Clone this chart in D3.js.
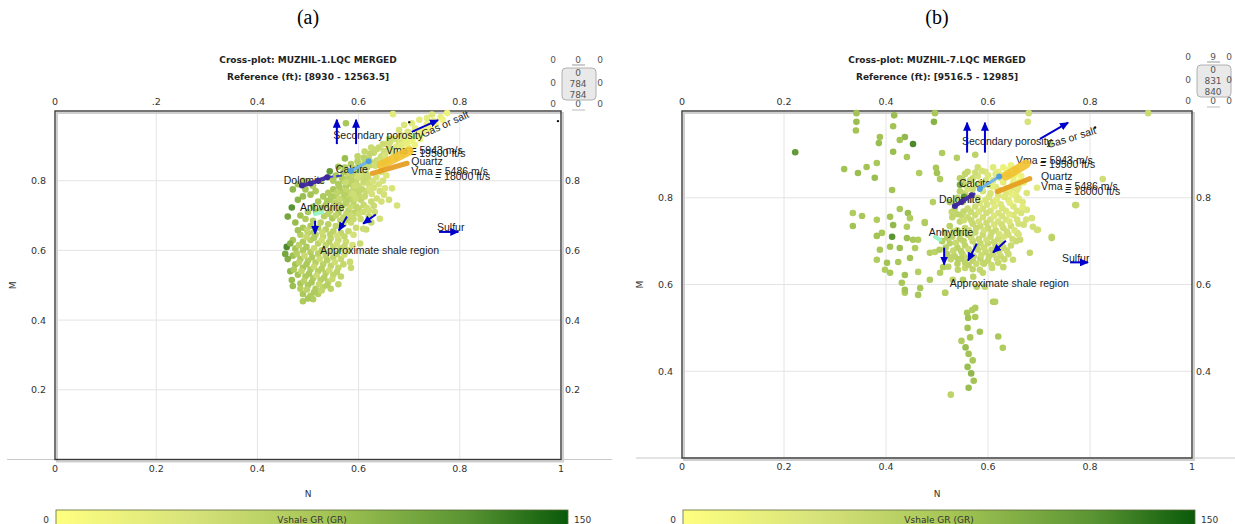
<!DOCTYPE html>
<html>
<head>
<meta charset="utf-8">
<script src="https://cdn.jsdelivr.net/npm/d3@7"></script>
<style>
  body { margin: 0; background: #fff; }
  svg text { font-family: "DejaVu Sans", Verdana, sans-serif; }
  .tick { font-size: 9.5px; fill: #333; }
  .title { font-size: 9px; font-weight: bold; fill: #222; }
  .note { font-family: "Liberation Sans", Arial, sans-serif; font-size: 10.5px; fill: #1a1a1a; }
  .panel { font-family: "Liberation Serif", "Times New Roman", serif; font-size: 20px; fill: #000; }
  .wid { font-size: 9px; fill: #555; }
</style>
</head>
<body>
<svg id="chart" width="1235" height="524"></svg>
<script>
const svg = d3.select('#chart');

// ---------- data ----------
const panelNames = ['(a)', '(b)'];
const titles = ['Cross-plot: MUZHIL-1.LQC MERGED', 'Cross-plot: MUZHIL-7.LQC MERGED'];
const references = ['Reference (ft): [8930 - 12563.5]', 'Reference (ft): [9516.5 - 12985]'];
const grDomain = [0, 150];
const xTicks = [0, 0.2, 0.4, 0.6, 0.8, 1];
const topLabelsA = ['0', '.2', '0.4', '0.6', '0.8'];
const topLabelsB = ['0', '0.2', '0.4', '0.6', '0.8'];
const yTicksA = [0.2, 0.4, 0.6, 0.8];
const yTicksB = [0.4, 0.6, 0.8];
const yDomainA = [0, 1];
const yDomainB = [0.2, 1];

// [N, M, GR]
const pointsA = [
  [0.668,0.991,28],[0.775,0.994,18],[0.762,0.982,22],[0.748,0.972,15],[0.735,0.962,20],[0.725,0.945,30],
  [0.742,0.952,12],[0.712,0.95,25],[0.72,0.932,18],[0.70,0.93,30],[0.69,0.918,32],[0.706,0.914,15],
  [0.68,0.91,38],[0.696,0.904,20],[0.722,0.92,10],[0.675,0.898,32],[0.686,0.89,22],[0.66,0.895,42],
  [0.67,0.88,36],[0.65,0.885,46],[0.655,0.905,40],[0.64,0.895,50],[0.63,0.88,52],[0.645,0.87,48],
  [0.62,0.865,55],[0.636,0.858,50],[0.612,0.852,58],[0.625,0.845,52],[0.575,0.965,75],[0.745,0.99,30],
  [0.735,0.98,26],
  [0.652,0.872,40],[0.662,0.884,35],[0.672,0.893,30],[0.683,0.902,28],[0.693,0.911,24],[0.703,0.922,20],
  [0.714,0.928,18],[0.727,0.94,16],[0.738,0.948,14],[0.752,0.963,12],[0.766,0.975,16],[0.642,0.862,45],
  [0.628,0.852,50],[0.617,0.838,52],[0.633,0.843,46],[0.648,0.852,42],[0.658,0.858,38],[0.674,0.866,33],
  [0.688,0.878,26],[0.699,0.892,22],[0.711,0.903,18],[0.716,0.94,22],[0.697,0.94,34],[0.684,0.93,36],
  [0.671,0.92,40],[0.662,0.91,44],[0.648,0.905,48],[0.636,0.89,52],[0.622,0.878,56],[0.61,0.866,60],
  [0.598,0.856,62],[0.585,0.848,66],[0.573,0.838,70],[0.598,0.87,58],[0.612,0.884,54],[0.625,0.895,50],
  [0.66,0.92,44],[0.68,0.945,38],[0.69,0.96,36],[0.705,0.965,30],[0.72,0.975,28],
  [0.61,0.84,55],[0.60,0.83,60],[0.615,0.82,52],[0.59,0.82,58],[0.605,0.81,48],[0.58,0.81,62],
  [0.595,0.80,55],[0.57,0.80,65],[0.585,0.79,60],[0.61,0.795,50],[0.62,0.805,45],[0.575,0.785,68],
  [0.56,0.79,72],[0.59,0.775,58],[0.60,0.785,50],[0.565,0.77,66],[0.58,0.765,62],[0.55,0.775,75],
  [0.54,0.765,70],[0.555,0.755,64],[0.57,0.75,60],[0.585,0.755,55],[0.60,0.76,52],[0.615,0.77,48],
  [0.63,0.78,42],[0.64,0.79,40],[0.635,0.81,38],[0.645,0.825,40],[0.53,0.755,72],[0.545,0.745,68],
  [0.56,0.74,65],[0.575,0.735,62],[0.59,0.74,58],[0.605,0.745,55],[0.52,0.74,75],[0.535,0.73,70],
  [0.55,0.725,66],[0.565,0.72,64],[0.58,0.715,60],[0.595,0.725,56],[0.61,0.73,52],[0.625,0.74,50],
  [0.636,0.749,45],[0.62,0.79,46],[0.60,0.845,62],[0.59,0.835,66],
  [0.567,0.808,68],[0.578,0.822,54],[0.592,0.828,60],[0.604,0.822,46],[0.618,0.812,50],[0.628,0.798,40],
  [0.612,0.804,52],[0.598,0.812,44],[0.586,0.803,60],[0.574,0.795,50],[0.562,0.782,70],[0.576,0.772,56],
  [0.592,0.786,48],[0.607,0.775,54],[0.622,0.778,40],[0.60,0.768,56],[0.588,0.763,46],[0.572,0.758,64],
  [0.558,0.766,58],[0.546,0.756,70],[0.562,0.748,52],[0.578,0.744,62],[0.594,0.748,48],[0.612,0.755,52],
  [0.626,0.762,42],[0.642,0.77,44],[0.652,0.778,36],[0.648,0.80,40],[0.655,0.815,34],[0.538,0.742,72],
  [0.552,0.735,58],[0.568,0.728,64],[0.584,0.725,50],[0.60,0.72,56],[0.616,0.722,46],[0.63,0.728,50],
  [0.645,0.74,42],[0.528,0.722,76],[0.544,0.714,60],[0.56,0.708,68],[0.576,0.706,54],[0.592,0.708,60],
  [0.604,0.69,50],[0.62,0.698,54],[0.632,0.71,46],[0.516,0.71,80],[0.532,0.698,64],[0.548,0.692,72],
  [0.564,0.686,56],[0.578,0.688,64],[0.59,0.69,52],[0.625,0.68,52],[0.615,0.66,48],
  [0.48,0.79,80],[0.49,0.80,70],[0.50,0.795,75],[0.51,0.785,68],[0.525,0.80,72],[0.54,0.81,78],
  [0.55,0.80,70],[0.47,0.775,90],[0.495,0.775,78],[0.515,0.77,72],[0.505,0.76,80],[0.49,0.755,85],
  [0.48,0.745,92],[0.543,0.827,115],[0.573,0.864,85],[0.56,0.84,80],[0.57,0.825,72],[0.555,0.815,76],
  [0.51,0.725,70],[0.525,0.715,66],[0.54,0.705,60],[0.555,0.70,58],[0.57,0.695,54],[0.585,0.70,50],
  [0.60,0.705,48],[0.609,0.71,46],[0.62,0.715,44],[0.642,0.691,42],[0.609,0.662,46],[0.603,0.62,50],
  [0.50,0.71,72],[0.485,0.70,80],[0.468,0.723,120],[0.46,0.697,105],[0.495,0.69,70],[0.51,0.685,64],
  [0.525,0.68,60],[0.54,0.675,62],[0.555,0.67,56],[0.57,0.675,52],[0.585,0.68,50],[0.595,0.665,48],
  [0.58,0.655,52],[0.565,0.65,56],[0.55,0.655,58],[0.535,0.66,62],[0.52,0.665,66],[0.505,0.67,70],
  [0.49,0.665,74],[0.475,0.68,86],[0.676,0.729,40],[0.666,0.778,38],[0.65,0.76,42],[0.66,0.745,45],
  [0.458,0.61,125],[0.47,0.63,76],[0.485,0.645,66],[0.50,0.65,62],[0.515,0.645,58],[0.53,0.64,54],
  [0.545,0.635,56],[0.56,0.63,50],[0.575,0.625,48],[0.49,0.625,70],[0.505,0.63,64],[0.52,0.62,60],
  [0.535,0.615,56],[0.55,0.61,54],[0.565,0.605,52],[0.58,0.60,48],[0.475,0.605,78],[0.49,0.60,70],
  [0.505,0.595,66],[0.52,0.59,62],[0.535,0.585,58],[0.55,0.58,56],[0.565,0.575,52],[0.583,0.567,50],
  [0.585,0.55,52],[0.47,0.585,82],[0.485,0.575,72],[0.50,0.57,68],[0.515,0.565,64],[0.53,0.56,60],
  [0.545,0.555,58],[0.56,0.55,54],[0.475,0.56,80],[0.49,0.55,74],[0.505,0.545,70],[0.52,0.54,66],
  [0.535,0.535,62],[0.55,0.53,58],[0.565,0.525,56],[0.48,0.53,78],[0.495,0.525,72],[0.51,0.52,68],
  [0.525,0.515,64],[0.54,0.51,60],[0.56,0.503,58],[0.53,0.495,62],[0.47,0.498,84],[0.485,0.505,76],
  [0.50,0.50,72],[0.515,0.49,68],[0.49,0.475,74],[0.505,0.47,70],[0.49,0.454,72],[0.52,0.475,66],
  [0.51,0.46,68],[0.545,0.49,60],[0.465,0.54,92],[0.46,0.575,98],[0.455,0.59,104],[0.465,0.62,95],
  [0.498,0.658,54],[0.512,0.652,68],[0.528,0.652,48],[0.544,0.646,60],[0.558,0.642,44],[0.572,0.64,54],
  [0.59,0.645,42],[0.48,0.658,80],[0.497,0.638,52],[0.512,0.636,68],[0.527,0.63,46],[0.542,0.624,60],
  [0.557,0.618,44],[0.572,0.612,52],[0.588,0.615,42],[0.482,0.615,60],[0.497,0.61,72],[0.512,0.606,50],
  [0.527,0.60,64],[0.542,0.596,46],[0.557,0.59,56],[0.572,0.588,44],[0.478,0.59,66],[0.493,0.585,52],
  [0.508,0.58,70],[0.523,0.575,48],[0.538,0.572,62],[0.553,0.566,46],[0.57,0.56,54],[0.482,0.565,60],
  [0.497,0.56,74],[0.512,0.553,52],[0.527,0.548,66],[0.542,0.543,48],[0.557,0.538,58],[0.487,0.54,56],
  [0.502,0.533,74],[0.517,0.528,50],[0.532,0.522,66],[0.548,0.518,52],[0.492,0.512,62],[0.507,0.508,74],
  [0.522,0.503,54],[0.538,0.50,66],[0.498,0.488,60],[0.512,0.48,72],[0.527,0.485,56],[0.50,0.462,74],
  [0.485,0.49,66],[0.468,0.515,86],[0.472,0.545,70]
];

const pointsB = [
  [0.222,0.905,115],[0.342,0.995,80],[0.342,0.975,85],[0.341,0.955,80],[0.416,0.99,85],[0.414,0.965,80],
  [0.496,0.995,75],[0.494,0.975,95],[0.68,0.995,45],[0.914,0.995,50],[0.388,0.94,80],[0.386,0.926,85],
  [0.453,0.924,125],[0.437,0.94,90],[0.427,0.933,80],[0.414,0.906,85],[0.441,0.894,75],[0.51,0.903,70],
  [0.539,0.892,65],[0.575,0.899,60],[0.678,0.975,40],[0.722,0.926,45],
  [0.318,0.866,80],[0.345,0.857,85],[0.362,0.871,80],[0.382,0.88,75],[0.378,0.846,85],[0.412,0.818,80],
  [0.465,0.857,70],[0.498,0.869,75],[0.50,0.857,80],[0.506,0.843,70],
  [0.335,0.765,70],[0.353,0.758,75],[0.335,0.735,80],[0.382,0.749,70],[0.408,0.756,80],[0.427,0.774,75],
  [0.443,0.765,85],[0.447,0.753,70],[0.414,0.737,90],[0.392,0.719,75],[0.382,0.712,80],[0.412,0.71,120],
  [0.441,0.707,85],[0.463,0.703,70],[0.476,0.744,65],[0.388,0.68,75],[0.408,0.687,80],[0.427,0.684,85],
  [0.457,0.684,70],[0.486,0.673,65],[0.382,0.657,70],[0.402,0.65,80],[0.424,0.652,75],[0.447,0.661,80],
  [0.398,0.634,70],[0.408,0.627,75],[0.437,0.622,80],[0.463,0.629,65],[0.431,0.604,75],[0.437,0.581,70],
  [0.467,0.592,75],[0.516,0.581,70],[0.486,0.611,70],[0.506,0.627,65],[0.522,0.641,60],[0.531,0.664,55],
  [0.541,0.634,60],[0.551,0.611,65],[0.571,0.618,60],[0.578,0.595,65],[0.59,0.627,55],[0.61,0.56,70],
  [0.559,0.535,75],[0.575,0.546,70],[0.561,0.523,80],[0.59,0.65,50],[0.612,0.68,45],[0.631,0.71,40],
  [0.657,0.719,45],[0.663,0.703,50],[0.688,0.733,45],[0.698,0.726,40],[0.725,0.71,55],[0.686,0.753,40],
  [0.676,0.772,35],[0.657,0.795,30],[0.676,0.811,35],[0.696,0.823,30],[0.657,0.818,30],[0.773,0.783,50],
  [0.825,0.843,45],
  [0.492,0.79,65],[0.529,0.767,55],[0.476,0.742,70],[0.453,0.703,75],[0.441,0.733,70],[0.496,0.675,60],
  [0.512,0.64,65],[0.555,0.638,55],[0.584,0.634,55],[0.608,0.638,50],[0.63,0.64,55],[0.649,0.657,50],
  [0.682,0.673,55],[0.696,0.726,45],[0.725,0.707,60],[0.771,0.783,55],[0.614,0.56,65],[0.594,0.595,60],
  [0.569,0.541,70],[0.575,0.525,75],[0.584,0.491,80],[0.463,0.576,75],[0.437,0.588,80],[0.516,0.581,65],
  [0.531,0.611,60],
  [0.56,0.50,80],[0.565,0.478,75],[0.556,0.455,85],[0.562,0.44,80],[0.57,0.425,75],[0.56,0.41,85],
  [0.567,0.395,90],[0.572,0.378,80],[0.562,0.362,85],[0.527,0.346,60],[0.629,0.454,70],[0.62,0.48,75],
  [0.548,0.47,70],
  [0.62,0.86,25],[0.63,0.87,20],[0.645,0.875,18],[0.655,0.865,22],[0.64,0.855,28],[0.625,0.845,30],
  [0.61,0.84,32],[0.60,0.83,35],[0.615,0.825,30],[0.63,0.835,25],[0.65,0.84,20],[0.665,0.85,18],
  [0.67,0.835,22],[0.66,0.825,28],[0.645,0.82,30],[0.635,0.81,32],[0.62,0.805,35],[0.605,0.81,38],
  [0.59,0.815,40],[0.58,0.80,42],[0.595,0.795,38],[0.61,0.79,36],[0.625,0.785,34],[0.64,0.795,30],
  [0.655,0.805,28],[0.668,0.79,32],[0.65,0.78,34],[0.635,0.77,36],[0.62,0.765,38],[0.605,0.77,40],
  [0.59,0.775,42],[0.575,0.78,45],[0.565,0.795,48],[0.555,0.81,52],[0.57,0.82,46],[0.585,0.835,44],
  [0.57,0.845,50],[0.555,0.83,55],[0.545,0.815,58],[0.54,0.80,60],[0.55,0.79,55],[0.56,0.775,50],
  [0.548,0.76,55],[0.535,0.775,60],[0.525,0.79,65],[0.53,0.755,58],[0.545,0.745,55],[0.56,0.755,50],
  [0.575,0.76,46],[0.59,0.755,44],[0.605,0.75,42],[0.62,0.745,40],[0.635,0.75,38],[0.65,0.76,36],
  [0.665,0.765,38],[0.675,0.75,40],[0.66,0.74,42],[0.645,0.735,44],[0.63,0.73,46],[0.615,0.725,48],
  [0.60,0.73,50],[0.585,0.735,50],[0.57,0.74,52],[0.555,0.73,55],[0.54,0.725,58],[0.525,0.735,62],
  [0.515,0.72,65],[0.53,0.71,60],[0.545,0.705,58],[0.56,0.715,55],[0.575,0.72,52],[0.59,0.715,50],
  [0.605,0.71,48],[0.62,0.705,46],[0.64,0.715,44],[0.655,0.70,48],[0.645,0.69,50],[0.63,0.685,50],
  [0.615,0.69,52],[0.60,0.695,52],[0.585,0.695,54],[0.57,0.70,55],[0.555,0.69,58],[0.54,0.685,60],
  [0.525,0.695,62],[0.51,0.70,66],[0.505,0.68,68],[0.52,0.67,64],[0.535,0.665,60],[0.55,0.67,58],
  [0.565,0.675,56],[0.58,0.68,54],[0.595,0.675,52],[0.61,0.67,52],[0.625,0.665,50],[0.64,0.67,50],
  [0.60,0.655,55],[0.585,0.66,56],[0.57,0.655,58],[0.555,0.65,60],[0.54,0.648,62],[0.57,0.635,58],
  [0.62,0.65,54],[0.58,0.85,40],[0.595,0.86,36],[0.61,0.87,30],[0.56,0.86,55],[0.545,0.845,62],
  [0.58,0.87,45],[0.553,0.802,120],[0.545,0.83,100],
  [0.627,0.852,26],[0.637,0.864,18],[0.652,0.852,20],[0.662,0.838,14],[0.648,0.83,26],[0.638,0.822,22],
  [0.622,0.818,32],[0.608,0.826,24],[0.596,0.84,38],[0.588,0.822,30],[0.602,0.802,38],[0.617,0.795,28],
  [0.632,0.802,32],[0.647,0.808,24],[0.66,0.798,30],[0.643,0.788,26],[0.628,0.776,36],[0.613,0.78,30],
  [0.598,0.784,40],[0.584,0.788,34],[0.57,0.806,46],[0.56,0.82,40],[0.578,0.83,44],[0.566,0.768,50],
  [0.582,0.768,38],[0.597,0.765,44],[0.612,0.758,34],[0.627,0.758,40],[0.642,0.762,30],[0.657,0.77,36],
  [0.668,0.778,28],[0.552,0.768,54],[0.538,0.788,48],[0.54,0.762,58],[0.553,0.748,46],[0.567,0.748,52],
  [0.582,0.745,42],[0.597,0.742,48],[0.612,0.738,38],[0.627,0.738,44],[0.642,0.745,34],[0.657,0.75,40],
  [0.67,0.738,42],[0.652,0.725,36],[0.637,0.722,46],[0.622,0.716,40],[0.607,0.72,50],[0.592,0.725,42],
  [0.577,0.73,52],[0.562,0.725,46],[0.547,0.718,56],[0.532,0.722,50],[0.52,0.708,64],[0.537,0.696,52],
  [0.552,0.70,58],[0.567,0.708,48],[0.582,0.705,52],[0.597,0.703,44],[0.612,0.698,50],[0.627,0.695,42],
  [0.648,0.705,46],[0.66,0.715,40],[0.637,0.678,50],[0.622,0.675,46],[0.607,0.68,52],[0.592,0.685,48],
  [0.577,0.688,56],[0.562,0.682,50],[0.547,0.677,60],[0.532,0.678,54],[0.517,0.685,64],[0.527,0.658,58],
  [0.542,0.658,64],[0.557,0.662,52],[0.572,0.665,56],[0.587,0.668,48],[0.602,0.665,54],[0.617,0.66,48],
  [0.632,0.658,52],[0.562,0.645,60],[0.577,0.648,52],[0.592,0.648,56],[0.607,0.645,50],[0.548,0.66,62],
  [0.60,0.852,34],[0.588,0.862,40],[0.575,0.858,46],[0.565,0.84,52],[0.55,0.842,58],[0.555,0.855,56],
  [0.615,0.855,30]
];

// overlay: arrows [N1, M1, N2, M2]
const arrowsA = [
  [0.557,0.905,0.557,0.975],[0.595,0.905,0.595,0.975],[0.705,0.94,0.757,0.974],[0.759,0.653,0.797,0.653],
  [0.514,0.685,0.514,0.648],[0.577,0.697,0.561,0.657],[0.634,0.703,0.609,0.677]
];
const arrowsB = [
  [0.559,0.904,0.559,0.973],[0.594,0.904,0.594,0.973],[0.702,0.936,0.757,0.973],[0.761,0.651,0.796,0.651],
  [0.514,0.685,0.514,0.646],[0.578,0.694,0.561,0.655],[0.635,0.701,0.61,0.674]
];
// overlay labels [text, N, M, angle]
const labelsA = [
  ['Secondary porosity',0.55,0.93,0],['Gas or salt',0.725,0.933,-24],['Vma = 5943 m/s',0.654,0.887,0],
  ['= 19500 ft/s',0.702,0.878,0],['Quartz',0.704,0.855,0],['Vma = 5486 m/s',0.704,0.827,0],
  ['= 18000 ft/s',0.751,0.812,0],['Calcite',0.555,0.832,0],['Dolomite',0.452,0.80,0],
  ['Anhydrite',0.484,0.723,0],['Sulfur',0.755,0.665,0],['Approximate shale region',0.524,0.60,0]
];
const labelsB = [
  ['Secondary porosity',0.549,0.93,0],['Gas or salt',0.716,0.922,-17],['Vma = 5943 m/s',0.655,0.886,0],
  ['= 19500 ft/s',0.702,0.877,0],['Quartz',0.704,0.849,0],['Vma = 5486 m/s',0.704,0.826,0],
  ['= 18000 ft/s',0.751,0.814,0],['Calcite',0.543,0.833,0],['Dolomite',0.504,0.797,0],
  ['Anhydrite',0.484,0.72,0],['Sulfur',0.745,0.66,0],['Approximate shale region',0.525,0.602,0]
];
// mineral lines
const dolomiteA = [[0.488,0.786],[0.505,0.792],[0.52,0.80],[0.538,0.81]];
const dolomiteLinkA = [[0.538,0.81],[0.567,0.815]];
const calciteA = [[0.585,0.828],[0.62,0.856]];
const quartzHiA = [[0.645,0.845],[0.70,0.885]];
const quartzLoA = [[0.627,0.821],[0.696,0.85]];
const anhydriteA = [[0.514,0.704],[0.528,0.71]];
const dolomiteB = [[0.535,0.781],[0.548,0.79],[0.568,0.806]];
const dolomiteLinkB = [[0.568,0.806],[0.575,0.81]];
const calciteB = [[0.584,0.82],[0.622,0.849]];
const quartzHiB = [[0.635,0.85],[0.675,0.878]];
const quartzLoB = [[0.618,0.814],[0.682,0.844]];
const anhydriteB = [[0.496,0.71],[0.506,0.703]];
const blackDotsA = [[0.70,0.968],[0.994,0.971]];
const blackDotsB = [[0.81,0.962]];

// depth widget text
const widgetTopA = ['0','0','0'];
const widgetBoxA = ['0','784','784'];
const widgetSideA = ['0','0'];
const widgetBottomA = ['0','0','0'];
const widgetTopB = ['0','9','0'];
const widgetBoxB = ['0','831','840'];
const widgetSideB = ['0','0'];
const widgetBottomB = ['0','0','0'];

// ---------- styles ----------
const color = d3.scaleLinear()
  .domain([0, 40, 80, 120, 150])
  .range(['#ffff80', '#d6e27a', '#a3c454', '#5a9433', '#0a5a0a']);

const defs = svg.append('defs');
defs.append('marker')
  .attr('id', 'arrowHead')
  .attr('markerUnits', 'userSpaceOnUse')
  .attr('markerWidth', 9).attr('markerHeight', 8)
  .attr('refX', 8).attr('refY', 4)
  .attr('orient', 'auto')
  .append('path').attr('d', 'M0,0 L9,4 L0,8 z').attr('fill', '#0000cc');

const grad = defs.append('linearGradient').attr('id', 'grBar');
color.domain().forEach((d) => {
  grad.append('stop').attr('offset', d / 150).attr('stop-color', color(d));
});

const panels = [
  {
    name: panelNames[0], title: titles[0], ref: references[0],
    x0: 55, x1: 561, y0: 111, y1: 459.5, yDomain: yDomainA, yTicks: yTicksA, topLabels: topLabelsA,
    points: pointsA, arrows: arrowsA, labels: labelsA,
    dolomite: dolomiteA, dolLink: dolomiteLinkA, calcite: calciteA, qHi: quartzHiA, qLo: quartzLoA,
    anhydrite: anhydriteA, blackDots: blackDotsA,
    wTop: widgetTopA, wBox: widgetBoxA, wSide: widgetSideA, wBottom: widgetBottomA,
    wx: 578, wy: 0, wCols: [-25, 0, 22],
    axisLine: [7, 612], barX: [56, 568]
  },
  {
    name: panelNames[1], title: titles[1], ref: references[1],
    x0: 682, x1: 1192, y0: 111, y1: 458, yDomain: yDomainB, yTicks: yTicksB, topLabels: topLabelsB,
    points: pointsB, arrows: arrowsB, labels: labelsB,
    dolomite: dolomiteB, dolLink: dolomiteLinkB, calcite: calciteB, qHi: quartzHiB, qLo: quartzLoB,
    anhydrite: anhydriteB, blackDots: blackDotsB,
    wTop: widgetTopB, wBox: widgetBoxB, wSide: widgetSideB, wBottom: widgetBottomB,
    wx: 1213, wy: -3, wCols: [-25, 0, 16],
    axisLine: [636, 1235], barX: [683, 1195]
  }
];

function drawPanel(p) {
  const x = d3.scaleLinear().domain([0, 1]).range([p.x0, p.x1]);
  const y = d3.scaleLinear().domain(p.yDomain).range([p.y1, p.y0]);
  const cx = (p.x0 + p.x1) / 2;
  const g = svg.append('g');

  // panel label and titles
  g.append('text').attr('class', 'panel').attr('x', cx).attr('y', 24)
    .attr('text-anchor', 'middle').text(p.name);
  g.append('text').attr('class', 'title').attr('x', cx).attr('y', 63)
    .attr('text-anchor', 'middle').text(p.title);
  g.append('text').attr('class', 'title').attr('x', cx).attr('y', 80)
    .attr('text-anchor', 'middle').text(p.ref);

  // grid
  g.selectAll('.vg').data(xTicks.slice(1, -1)).join('line')
    .attr('x1', (d) => x(d)).attr('x2', (d) => x(d))
    .attr('y1', p.y0).attr('y2', p.y1)
    .attr('stroke', '#e4e4e4');
  g.selectAll('.hg').data(p.yTicks).join('line')
    .attr('x1', p.x0).attr('x2', p.x1)
    .attr('y1', (d) => y(d)).attr('y2', (d) => y(d))
    .attr('stroke', '#e4e4e4');

  // baseline extending past the box
  g.append('line')
    .attr('x1', p.axisLine[0]).attr('x2', p.axisLine[1])
    .attr('y1', p.y1).attr('y2', p.y1)
    .attr('stroke', '#c8c8c8');

  // frame with soft shadow
  g.append('rect')
    .attr('x', p.x0 + 2).attr('y', p.y0 + 2)
    .attr('width', p.x1 - p.x0).attr('height', p.y1 - p.y0)
    .attr('fill', 'none').attr('stroke', '#cfcfcf').attr('stroke-width', 2);
  g.append('rect')
    .attr('x', p.x0).attr('y', p.y0)
    .attr('width', p.x1 - p.x0).attr('height', p.y1 - p.y0)
    .attr('fill', 'none').attr('stroke', '#3a3a3a').attr('stroke-width', 1.4);

  // tick labels
  g.selectAll('.bt').data(xTicks).join('text').attr('class', 'tick')
    .attr('x', (d) => x(d)).attr('y', p.y1 + 12)
    .attr('text-anchor', 'middle').text((d) => d3.format('')(d));
  g.selectAll('.tt').data(p.topLabels).join('text').attr('class', 'tick')
    .attr('x', (d, i) => x(xTicks[i])).attr('y', p.y0 - 6)
    .attr('text-anchor', 'middle').text((d) => d);
  g.selectAll('.lt').data(p.yTicks).join('text').attr('class', 'tick')
    .attr('x', p.x0 - 9).attr('y', (d) => y(d) + 3.5)
    .attr('text-anchor', 'end').text((d) => d3.format('.1f')(d));
  g.selectAll('.rt').data(p.yTicks).join('text').attr('class', 'tick')
    .attr('x', p.x1 + 4).attr('y', (d) => y(d) + 3.5)
    .attr('text-anchor', 'start').text((d) => d3.format('.1f')(d));

  // axis titles
  g.append('text').attr('class', 'tick').attr('x', cx).attr('y', 497)
    .attr('text-anchor', 'middle').style('font-size', '9px').text('N');
  g.append('text').attr('class', 'tick')
    .attr('transform', `translate(${p.x0 - 39},${(p.y0 + p.y1) / 2}) rotate(-90)`)
    .attr('text-anchor', 'middle').style('font-size', '9px').text('M');

  // points
  g.append('g').selectAll('circle').data(p.points).join('circle')
    .attr('cx', (d) => x(d[0])).attr('cy', (d) => y(d[1]))
    .attr('r', 3.3)
    .attr('fill', (d) => color(d[2]));

  g.append('g').selectAll('circle').data(p.blackDots).join('circle')
    .attr('cx', (d) => x(d[0])).attr('cy', (d) => y(d[1]))
    .attr('r', 1.2).attr('fill', '#111');

  // annotation text
  g.append('g').selectAll('text').data(p.labels).join('text').attr('class', 'note')
    .attr('transform', (d) => `translate(${x(d[1])},${y(d[2])}) rotate(${d[3]})`)
    .attr('dy', '0.35em')
    .text((d) => d[0]);

  // mineral lines
  const line = d3.line().x((d) => x(d[0])).y((d) => y(d[1]));
  g.append('path').attr('d', line(p.qHi)).attr('stroke', '#f2c12e')
    .attr('stroke-width', 9).attr('stroke-linecap', 'round').attr('fill', 'none').attr('opacity', 0.9);
  g.append('path').attr('d', line(p.qLo)).attr('stroke', '#e69a1a')
    .attr('stroke-width', 5).attr('stroke-linecap', 'round').attr('fill', 'none').attr('opacity', 0.9);
  g.append('path').attr('d', line(p.calcite)).attr('stroke', '#6fb4ea')
    .attr('stroke-width', 3).attr('fill', 'none');
  g.selectAll('.cd').data(p.calcite).join('circle')
    .attr('cx', (d) => x(d[0])).attr('cy', (d) => y(d[1])).attr('r', 3).attr('fill', '#4f9de0');
  g.append('path').attr('d', line(p.anhydrite)).attr('stroke', '#98f5c8')
    .attr('stroke-width', 4).attr('stroke-linecap', 'round').attr('fill', 'none');
  g.append('path').attr('d', line(p.dolLink)).attr('stroke', '#3b3bcc')
    .attr('stroke-width', 2).attr('stroke-dasharray', '6,3').attr('fill', 'none');
  g.append('path').attr('d', line(p.dolomite)).attr('stroke', '#4a2fa6')
    .attr('stroke-width', 4).attr('stroke-linecap', 'round').attr('fill', 'none');
  g.selectAll('.dd').data(p.dolomite).join('circle')
    .attr('cx', (d) => x(d[0])).attr('cy', (d) => y(d[1])).attr('r', 3).attr('fill', '#3d2a9a');

  // arrows
  g.append('g').selectAll('line').data(p.arrows).join('line')
    .attr('x1', (d) => x(d[0])).attr('y1', (d) => y(d[1]))
    .attr('x2', (d) => x(d[2])).attr('y2', (d) => y(d[3]))
    .attr('stroke', '#0000cc').attr('stroke-width', 2)
    .attr('marker-end', 'url(#arrowHead)');

  // colour bar
  g.append('rect')
    .attr('x', p.barX[0]).attr('y', 510)
    .attr('width', p.barX[1] - p.barX[0]).attr('height', 18)
    .attr('fill', 'url(#grBar)').attr('stroke', '#5c6a3a').attr('stroke-width', 0.8);
  g.append('text').attr('class', 'tick').attr('x', p.barX[0] - 7).attr('y', 523)
    .attr('text-anchor', 'end').style('font-size', '9px').text(grDomain[0]);
  g.append('text').attr('class', 'tick').attr('x', p.barX[1] + 6).attr('y', 523)
    .attr('text-anchor', 'start').style('font-size', '9px').text(grDomain[1]);
  g.append('text').attr('class', 'tick').attr('x', (p.barX[0] + p.barX[1]) / 2).attr('y', 523)
    .attr('text-anchor', 'middle').style('font-size', '9px').text('Vshale GR (GR)');

  // depth widget
  const w = g.append('g').attr('transform', `translate(${p.wx},${p.wy})`);
  p.wCols.forEach((dx, i) => {
    w.append('text').attr('class', 'wid').attr('x', dx).attr('y', 63)
      .attr('text-anchor', 'middle').text(p.wTop[i]);
    w.append('text').attr('class', 'wid').attr('x', dx).attr('y', 107)
      .attr('text-anchor', 'middle').text(p.wBottom[i]);
  });
  w.append('line').attr('x1', -6).attr('x2', 7).attr('y1', 65).attr('y2', 65).attr('stroke', '#999');
  w.append('line').attr('x1', -6).attr('x2', 7).attr('y1', 110).attr('y2', 110).attr('stroke', '#bbb');
  w.append('rect').attr('x', -16).attr('y', 68).attr('width', 34).attr('height', 32).attr('rx', 4)
    .attr('fill', '#e9e9e9').attr('stroke', '#b0b0b0');
  p.wBox.forEach((t, i) => {
    w.append('text').attr('class', 'wid').attr('x', 0).attr('y', 76 + i * 11)
      .attr('text-anchor', 'middle').text(t);
  });
  w.append('text').attr('class', 'wid').attr('x', p.wCols[0]).attr('y', 86)
    .attr('text-anchor', 'middle').text(p.wSide[0]);
  w.append('text').attr('class', 'wid').attr('x', p.wCols[2]).attr('y', 86)
    .attr('text-anchor', 'middle').text(p.wSide[1]);
}

panels.forEach(drawPanel);
</script>
</body>
</html>
